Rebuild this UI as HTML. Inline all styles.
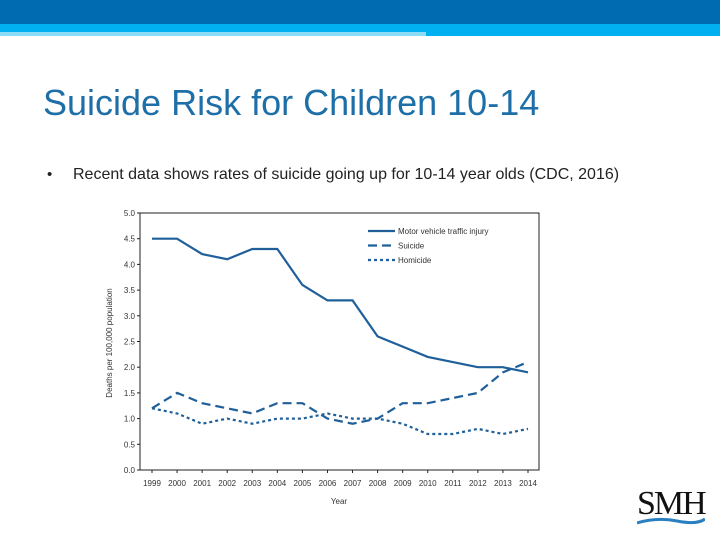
<!DOCTYPE html>
<html><head><meta charset="utf-8"><style>
body{margin:0;width:720px;height:540px;background:#fff;position:relative;overflow:hidden;font-family:"Liberation Sans",sans-serif}
.abs{position:absolute}
</style></head><body>
<div class="abs" style="left:0;top:0;width:720px;height:24px;background:#006bb0"></div>
<div class="abs" style="left:0;top:24px;width:720px;height:12px;background:#00b0f0"></div>
<div class="abs" style="left:0;top:32px;width:426px;height:4px;background:#8cdcf5"></div>
<div class="abs" style="left:43px;top:82px;font-size:36px;color:#1e6fa8;white-space:nowrap">Suicide Risk for Children 10-14</div>
<div class="abs" style="left:47px;top:166px;font-size:15px;color:#222">•</div>
<div class="abs" style="left:73px;top:166px;font-size:16px;color:#222;white-space:nowrap">Recent data shows rates of suicide going up for 10-14 year olds (CDC, 2016)</div>
<svg class="abs" style="left:0;top:0" width="720" height="540">
<g id="g" font-family="Liberation Sans, sans-serif" font-size="8" fill="#333"></g>
</svg>
<div class="abs" style="left:637px;top:487px;width:68px;height:40px">
<div style="font-family:'Liberation Serif',serif;font-size:34px;letter-spacing:-2px;color:#111;line-height:34px">SMH</div>
<svg width="68" height="8" style="position:absolute;left:0;top:30px"><path d="M0 6 Q20 0 40 4 T68 2" stroke="#2a7fc0" stroke-width="3" fill="none"/></svg>
</div>
<script>
const years=["1999","2000","2001","2002","2003","2004","2005","2006","2007","2008","2009","2010","2011","2012","2013","2014"];
const motor=[4.5,4.5,4.2,4.1,4.3,4.3,3.6,3.3,3.3,2.6,2.4,2.2,2.1,2.0,2.0,1.9];
const suicide=[1.2,1.5,1.3,1.2,1.1,1.3,1.3,1.0,0.9,1.0,1.3,1.3,1.4,1.5,1.9,2.1];
const homicide=[1.2,1.1,0.9,1.0,0.9,1.0,1.0,1.1,1.0,1.0,0.9,0.7,0.7,0.8,0.7,0.8];
const yTicks=["0.0","0.5","1.0","1.5","2.0","2.5","3.0","3.5","4.0","4.5","5.0"];
const seriesNames=["Motor vehicle traffic injury","Suicide","Homicide"];
const NS="http://www.w3.org/2000/svg",g=document.getElementById('g');
const L=140,R=539,T=213,B=470;
const x=i=>152+i*(528-152)/(years.length-1);
const y=v=>B-(v/5)*(B-T);
function mk(t,a){const e=document.createElementNS(NS,t);for(const k in a)e.setAttribute(k,a[k]);g.appendChild(e);return e;}
const fr=mk('rect',{x:L,y:T,width:R-L,height:B-T,fill:'none',stroke:'#222','stroke-width':1});


yTicks.forEach(t=>{const v=parseFloat(t);
mk('line',{x1:L-3,x2:L,y1:y(v),y2:y(v),stroke:'#222'});
const e=mk('text',{x:L-5,y:y(v)+3,'text-anchor':'end'});e.textContent=t;

});
years.forEach((t,i)=>{mk('line',{x1:x(i),x2:x(i),y1:B,y2:B+3,stroke:'#222'});
const e=mk('text',{x:x(i),y:B+16,'text-anchor':'middle'});e.textContent=t;

});
let e=mk('text',{x:339,y:504,'text-anchor':'middle'});e.textContent='Year';


e=mk('text',{x:0,y:0,'text-anchor':'middle',transform:'translate(112,343) rotate(-90)'});e.textContent='Deaths per 100,000 population';


const styles=[null,'9,5','3,3'];const names=['line-motor-vehicle','line-suicide','line-homicide'];
[motor,suicide,homicide].forEach((s,k)=>{
const p=mk('polyline',{points:s.map((v,i)=>x(i)+','+y(v)).join(' '),fill:'none',stroke:'#1f5f9a','stroke-width':2.2});
if(styles[k])p.setAttribute('stroke-dasharray',styles[k]);


const ly=231+k*14.5;
const l=mk('line',{x1:368,x2:395,y1:ly,y2:ly,stroke:'#1f5f9a','stroke-width':2.2});
if(styles[k])l.setAttribute('stroke-dasharray',styles[k]);


const t=mk('text',{x:398,y:ly+3});t.textContent=seriesNames[k];


});
</script>
</body></html>
